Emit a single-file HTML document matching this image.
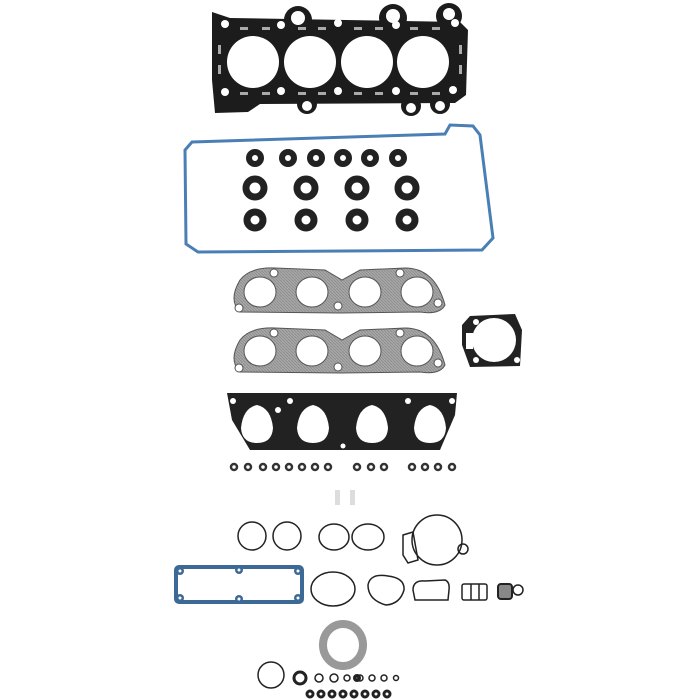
<!DOCTYPE html>
<html><head><style>html,body{margin:0;padding:0;background:#fff}svg{display:block}</style></head>
<body>
<svg width="700" height="700" viewBox="0 0 700 700" xmlns="http://www.w3.org/2000/svg">
<defs>
<pattern id="mesh" width="3" height="3" patternUnits="userSpaceOnUse"><rect width="3" height="3" fill="#a8a8a8"/><path d="M0 0L3 3" stroke="#8e8e8e" stroke-width="1"/></pattern>
</defs>
<!-- head gasket -->
<g fill="#1c1c1c">
<path d="M212 12 L230 18 L460 22 L468 30 L466 95 L455 103 L260 104 L248 112 L215 113 L212 80 Z"/>
<circle cx="298" cy="20" r="14"/><circle cx="393" cy="18" r="14"/><circle cx="449" cy="16" r="13"/>
<circle cx="307" cy="104" r="10"/><circle cx="411" cy="106" r="10"/><circle cx="440" cy="104" r="10"/>
</g>
<g fill="#fff">
<circle cx="253" cy="62" r="26"/><circle cx="310" cy="62" r="26"/><circle cx="367" cy="62" r="26"/><circle cx="423" cy="62" r="26"/>
<circle cx="298" cy="18" r="7"/><circle cx="393" cy="16" r="7"/><circle cx="449" cy="14" r="6"/>
<circle cx="225" cy="24" r="4"/><circle cx="281" cy="25" r="4"/><circle cx="338" cy="23" r="4"/><circle cx="396" cy="25" r="4"/><circle cx="455" cy="23" r="4"/>
<circle cx="225" cy="92" r="4"/><circle cx="281" cy="91" r="4"/><circle cx="338" cy="91" r="4"/><circle cx="396" cy="91" r="4"/><circle cx="453" cy="90" r="4"/>
<circle cx="307" cy="106" r="5"/><circle cx="411" cy="108" r="5"/><circle cx="440" cy="106" r="5"/>
</g>
<g fill="#aaa">
<rect x="240" y="27" width="8" height="3"/><rect x="262" y="27" width="8" height="3"/><rect x="298" y="27" width="8" height="3"/><rect x="318" y="27" width="8" height="3"/><rect x="354" y="27" width="8" height="3"/><rect x="375" y="27" width="8" height="3"/><rect x="410" y="27" width="8" height="3"/><rect x="432" y="27" width="8" height="3"/>
<rect x="240" y="92" width="8" height="3"/><rect x="262" y="92" width="8" height="3"/><rect x="298" y="92" width="8" height="3"/><rect x="318" y="92" width="8" height="3"/><rect x="354" y="92" width="8" height="3"/><rect x="375" y="92" width="8" height="3"/><rect x="410" y="92" width="8" height="3"/><rect x="432" y="92" width="8" height="3"/>
<rect x="218" y="45" width="3" height="9"/><rect x="218" y="65" width="3" height="9"/><rect x="459" y="45" width="3" height="9"/><rect x="459" y="65" width="3" height="9"/>
</g>
<!-- valve cover -->
<path d="M192 142 L445 134 L450 125 L473 126 L480 135 L493 238 L482 250 L198 252 L186 244 L185 150 Z" fill="none" stroke="#4a7fb5" stroke-width="3"/>
<g fill="none" stroke="#222">
<g stroke-width="6"><circle cx="255" cy="158" r="6"/><circle cx="288" cy="158" r="6"/><circle cx="316" cy="158" r="6"/><circle cx="343" cy="158" r="6"/><circle cx="370" cy="158" r="6"/><circle cx="398" cy="158" r="6"/></g>
<g stroke-width="7"><circle cx="255" cy="188" r="9"/><circle cx="306" cy="188" r="9"/><circle cx="357" cy="188" r="9"/><circle cx="407" cy="188" r="9"/>
<circle cx="255" cy="220" r="8"/><circle cx="306" cy="220" r="8"/><circle cx="357" cy="220" r="8"/><circle cx="407" cy="220" r="8"/></g>
</g>
<!-- exhaust gaskets -->
<g stroke="#555" stroke-width="1" fill="url(#mesh)">
<path d="M240 280 Q250 267 275 268 L325 270 L342 280 L360 270 L405 268 Q435 268 445 305 Q440 315 420 312 L340 313 L240 312 Q228 300 240 280Z"/>
<path d="M240 340 Q250 327 275 328 L325 330 L342 340 L360 330 L405 328 Q435 328 445 365 Q440 375 420 372 L340 373 L240 372 Q228 360 240 340Z"/>
</g>
<g fill="#fff" stroke="#555"><ellipse cx="260" cy="292" rx="16" ry="15"/><ellipse cx="312" cy="292" rx="16" ry="15"/><ellipse cx="365" cy="292" rx="16" ry="15"/><ellipse cx="417" cy="292" rx="16" ry="15"/>
<ellipse cx="260" cy="351" rx="16" ry="15"/><ellipse cx="312" cy="351" rx="16" ry="15"/><ellipse cx="365" cy="351" rx="16" ry="15"/><ellipse cx="417" cy="351" rx="16" ry="15"/>
<circle cx="274" cy="273" r="4"/><circle cx="400" cy="273" r="4"/><circle cx="338" cy="306" r="4"/><circle cx="239" cy="308" r="4"/><circle cx="438" cy="303" r="4"/>
<circle cx="274" cy="333" r="4"/><circle cx="400" cy="333" r="4"/><circle cx="338" cy="367" r="4"/><circle cx="239" cy="368" r="4"/><circle cx="438" cy="363" r="4"/></g>
<!-- throttle -->
<path d="M470 316 L515 314 L522 330 L520 366 L470 367 L462 345 L462 325Z" fill="#222"/>
<circle cx="494" cy="340" r="22" fill="#fff"/><rect x="466" y="333" width="7" height="16" fill="#fff"/>
<g fill="#fff"><circle cx="476" cy="322" r="3"/><circle cx="476" cy="360" r="3"/><circle cx="517" cy="360" r="3"/></g>
<!-- intake -->
<path d="M227 393 L457 393 L455 415 L440 450 L250 450 L232 420Z" fill="#222"/>
<g fill="#fff"><path d="M241 428 Q243 408 257 405 Q271 408 273 428 Q272 443 257 443 Q242 443 241 428Z"/><path d="M297 428 Q299 408 313 405 Q327 408 329 428 Q328 443 313 443 Q298 443 297 428Z"/><path d="M356 428 Q358 408 372 405 Q386 408 388 428 Q387 443 372 443 Q357 443 356 428Z"/><path d="M414 428 Q416 408 430 405 Q444 408 446 428 Q445 443 430 443 Q415 443 414 428Z"/>
<circle cx="233" cy="401" r="3"/><circle cx="290" cy="401" r="3"/><circle cx="408" cy="401" r="3"/><circle cx="452" cy="401" r="3"/><circle cx="278" cy="410" r="3"/><circle cx="343" cy="446" r="2.5"/></g>
<!-- small o-rings -->
<g fill="none" stroke="#333" stroke-width="2.5">
<circle cx="234" cy="467" r="3"/><circle cx="248" cy="467" r="3"/><circle cx="263" cy="467" r="3"/><circle cx="276" cy="467" r="3"/><circle cx="289" cy="467" r="3"/><circle cx="302" cy="467" r="3"/><circle cx="315" cy="467" r="3"/><circle cx="328" cy="467" r="3"/><circle cx="357" cy="467" r="3"/><circle cx="371" cy="467" r="3"/><circle cx="384" cy="467" r="3"/><circle cx="412" cy="467" r="3"/><circle cx="425" cy="467" r="3"/><circle cx="438" cy="467" r="3"/><circle cx="452" cy="467" r="3"/>
</g>
<rect x="335" y="490" width="5" height="15" fill="#ddd"/><rect x="350" y="490" width="5" height="15" fill="#ddd"/>
<!-- bottom gaskets -->
<g fill="none" stroke="#222" stroke-width="1.5">
<circle cx="252" cy="536" r="14"/><circle cx="287" cy="536" r="14"/>
<ellipse cx="334" cy="537" rx="15" ry="13"/><ellipse cx="368" cy="537" rx="16" ry="13"/>
<circle cx="437" cy="540" r="25"/><circle cx="463" cy="549" r="5"/><path d="M403 535 L413 532 L418 560 L408 563 L403 555Z"/>
<ellipse cx="333" cy="589" rx="22" ry="17"/><path d="M368 585 Q370 573 388 576 Q405 578 404 590 Q400 604 386 605 Q368 600 368 585Z"/>
<path d="M413 590 Q413 580 425 581 L445 580 Q450 582 449 590 L448 600 L415 600Z"/>
<rect x="462" y="584" width="25" height="16" rx="2"/><path d="M471 584 V600 M479 584 V600"/>
<circle cx="271" cy="675" r="13"/><circle cx="319" cy="678" r="4"/><circle cx="334" cy="678" r="4"/><circle cx="347" cy="678" r="3"/><circle cx="360" cy="678" r="3"/><circle cx="372" cy="678" r="3"/><circle cx="384" cy="678" r="3"/><circle cx="396" cy="678" r="2.5"/>
</g>
<rect x="498" y="584" width="14" height="15" rx="3" fill="#888" stroke="#222" stroke-width="2"/><circle cx="518" cy="590" r="5" fill="none" stroke="#222" stroke-width="1.5"/>
<rect x="176" y="567" width="126" height="35" rx="3" fill="none" stroke="#3d6996" stroke-width="4"/>
<g fill="#3d6996"><circle cx="180" cy="571" r="4"/><circle cx="239" cy="570" r="4"/><circle cx="298" cy="571" r="4"/><circle cx="180" cy="598" r="4"/><circle cx="239" cy="599" r="4"/><circle cx="298" cy="598" r="4"/></g>
<g fill="#fff"><circle cx="180" cy="571" r="1.5"/><circle cx="239" cy="570" r="1.5"/><circle cx="298" cy="571" r="1.5"/><circle cx="180" cy="598" r="1.5"/><circle cx="239" cy="599" r="1.5"/><circle cx="298" cy="598" r="1.5"/></g>
<g fill="none" stroke="#222" stroke-width="3"><circle cx="300" cy="678" r="6"/><circle cx="357" cy="678" r="2.5"/>
<circle cx="310" cy="694" r="3"/><circle cx="321" cy="694" r="3"/><circle cx="332" cy="694" r="3"/><circle cx="343" cy="694" r="3"/><circle cx="354" cy="694" r="3"/><circle cx="365" cy="694" r="3"/><circle cx="376" cy="694" r="3"/><circle cx="387" cy="694" r="3"/></g>
<ellipse cx="343" cy="645" rx="20" ry="21" fill="none" stroke="#999" stroke-width="8"/>
</svg>
</body></html>
